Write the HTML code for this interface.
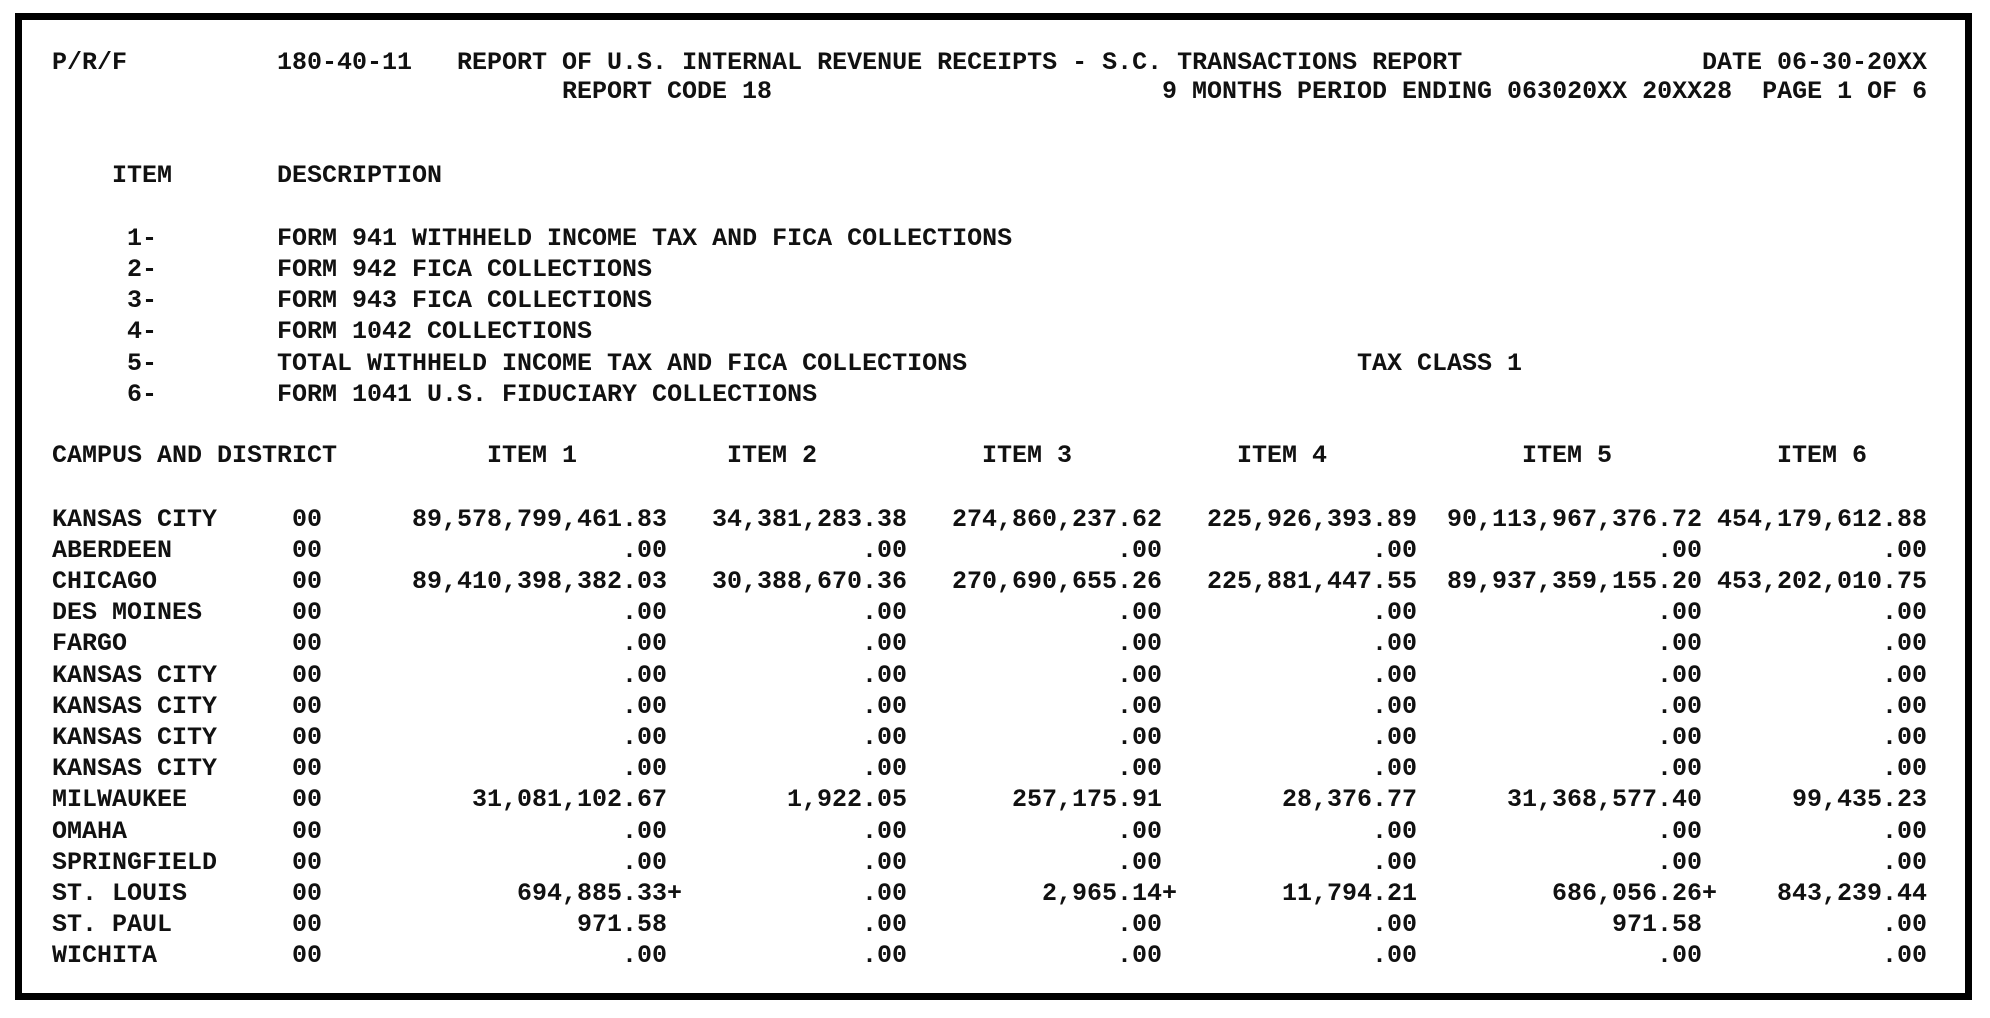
<!DOCTYPE html>
<html><head><meta charset="utf-8"><style>
html,body{margin:0;padding:0;background:#fff;}
body{width:1990px;height:1016px;position:relative;overflow:hidden;font-family:"Liberation Mono","DejaVu Sans Mono",monospace;font-size:25px;font-weight:bold;color:#111;}
.box{position:absolute;left:15px;top:13px;width:1943px;height:973px;border:7px solid #000;}
.w{position:absolute;left:0;top:2px;width:1990px;height:1016px;}
.r{position:absolute;left:0;width:1990px;height:30px;line-height:30px;white-space:pre;}
.r span{position:absolute;top:0;white-space:pre;}
</style></head><body>
<div class="box"></div>
<div class="w">
<div class="r" style="top:46px"><span style="left:52px">P/R/F</span><span style="left:277px">180-40-11   REPORT OF U.S. INTERNAL REVENUE RECEIPTS - S.C. TRANSACTIONS REPORT</span><span style="left:1702px">DATE 06-30-20XX</span></div>
<div class="r" style="top:75px"><span style="left:562px">REPORT CODE 18</span><span style="left:1162px">9 MONTHS PERIOD ENDING 063020XX 20XX28  PAGE 1 OF 6</span></div>
<div class="r" style="top:159px"><span style="left:112px">ITEM</span><span style="left:277px">DESCRIPTION</span></div>
<div class="r" style="top:222px"><span style="left:127px">1-</span><span style="left:277px">FORM 941 WITHHELD INCOME TAX AND FICA COLLECTIONS</span></div>
<div class="r" style="top:253px"><span style="left:127px">2-</span><span style="left:277px">FORM 942 FICA COLLECTIONS</span></div>
<div class="r" style="top:284px"><span style="left:127px">3-</span><span style="left:277px">FORM 943 FICA COLLECTIONS</span></div>
<div class="r" style="top:315px"><span style="left:127px">4-</span><span style="left:277px">FORM 1042 COLLECTIONS</span></div>
<div class="r" style="top:347px"><span style="left:127px">5-</span><span style="left:277px">TOTAL WITHHELD INCOME TAX AND FICA COLLECTIONS</span><span style="left:1357px">TAX CLASS 1</span></div>
<div class="r" style="top:378px"><span style="left:127px">6-</span><span style="left:277px">FORM 1041 U.S. FIDUCIARY COLLECTIONS</span></div>
<div class="r" style="top:439px"><span style="left:52px">CAMPUS AND DISTRICT</span><span style="left:487px">ITEM 1</span><span style="left:727px">ITEM 2</span><span style="left:982px">ITEM 3</span><span style="left:1237px">ITEM 4</span><span style="left:1522px">ITEM 5</span><span style="left:1777px">ITEM 6</span></div>

<div class="r" style="top:503px"><span style="left:52px">KANSAS CITY</span><span style="left:292px">00</span><span style="right:1323px">89,578,799,461.83</span><span style="right:1083px">34,381,283.38</span><span style="right:828px">274,860,237.62</span><span style="right:573px">225,926,393.89</span><span style="right:288px">90,113,967,376.72</span><span style="right:63px">454,179,612.88</span></div>
<div class="r" style="top:534px"><span style="left:52px">ABERDEEN</span><span style="left:292px">00</span><span style="right:1323px">.00</span><span style="right:1083px">.00</span><span style="right:828px">.00</span><span style="right:573px">.00</span><span style="right:288px">.00</span><span style="right:63px">.00</span></div>
<div class="r" style="top:565px"><span style="left:52px">CHICAGO</span><span style="left:292px">00</span><span style="right:1323px">89,410,398,382.03</span><span style="right:1083px">30,388,670.36</span><span style="right:828px">270,690,655.26</span><span style="right:573px">225,881,447.55</span><span style="right:288px">89,937,359,155.20</span><span style="right:63px">453,202,010.75</span></div>
<div class="r" style="top:596px"><span style="left:52px">DES MOINES</span><span style="left:292px">00</span><span style="right:1323px">.00</span><span style="right:1083px">.00</span><span style="right:828px">.00</span><span style="right:573px">.00</span><span style="right:288px">.00</span><span style="right:63px">.00</span></div>
<div class="r" style="top:627px"><span style="left:52px">FARGO</span><span style="left:292px">00</span><span style="right:1323px">.00</span><span style="right:1083px">.00</span><span style="right:828px">.00</span><span style="right:573px">.00</span><span style="right:288px">.00</span><span style="right:63px">.00</span></div>
<div class="r" style="top:659px"><span style="left:52px">KANSAS CITY</span><span style="left:292px">00</span><span style="right:1323px">.00</span><span style="right:1083px">.00</span><span style="right:828px">.00</span><span style="right:573px">.00</span><span style="right:288px">.00</span><span style="right:63px">.00</span></div>
<div class="r" style="top:690px"><span style="left:52px">KANSAS CITY</span><span style="left:292px">00</span><span style="right:1323px">.00</span><span style="right:1083px">.00</span><span style="right:828px">.00</span><span style="right:573px">.00</span><span style="right:288px">.00</span><span style="right:63px">.00</span></div>
<div class="r" style="top:721px"><span style="left:52px">KANSAS CITY</span><span style="left:292px">00</span><span style="right:1323px">.00</span><span style="right:1083px">.00</span><span style="right:828px">.00</span><span style="right:573px">.00</span><span style="right:288px">.00</span><span style="right:63px">.00</span></div>
<div class="r" style="top:752px"><span style="left:52px">KANSAS CITY</span><span style="left:292px">00</span><span style="right:1323px">.00</span><span style="right:1083px">.00</span><span style="right:828px">.00</span><span style="right:573px">.00</span><span style="right:288px">.00</span><span style="right:63px">.00</span></div>
<div class="r" style="top:783px"><span style="left:52px">MILWAUKEE</span><span style="left:292px">00</span><span style="right:1323px">31,081,102.67</span><span style="right:1083px">1,922.05</span><span style="right:828px">257,175.91</span><span style="right:573px">28,376.77</span><span style="right:288px">31,368,577.40</span><span style="right:63px">99,435.23</span></div>
<div class="r" style="top:815px"><span style="left:52px">OMAHA</span><span style="left:292px">00</span><span style="right:1323px">.00</span><span style="right:1083px">.00</span><span style="right:828px">.00</span><span style="right:573px">.00</span><span style="right:288px">.00</span><span style="right:63px">.00</span></div>
<div class="r" style="top:846px"><span style="left:52px">SPRINGFIELD</span><span style="left:292px">00</span><span style="right:1323px">.00</span><span style="right:1083px">.00</span><span style="right:828px">.00</span><span style="right:573px">.00</span><span style="right:288px">.00</span><span style="right:63px">.00</span></div>
<div class="r" style="top:877px"><span style="left:52px">ST. LOUIS</span><span style="left:292px">00</span><span style="right:1308px">694,885.33+</span><span style="right:1083px">.00</span><span style="right:813px">2,965.14+</span><span style="right:573px">11,794.21</span><span style="right:273px">686,056.26+</span><span style="right:63px">843,239.44</span></div>
<div class="r" style="top:908px"><span style="left:52px">ST. PAUL</span><span style="left:292px">00</span><span style="right:1323px">971.58</span><span style="right:1083px">.00</span><span style="right:828px">.00</span><span style="right:573px">.00</span><span style="right:288px">971.58</span><span style="right:63px">.00</span></div>
<div class="r" style="top:939px"><span style="left:52px">WICHITA</span><span style="left:292px">00</span><span style="right:1323px">.00</span><span style="right:1083px">.00</span><span style="right:828px">.00</span><span style="right:573px">.00</span><span style="right:288px">.00</span><span style="right:63px">.00</span></div>
</div>
</body></html>
